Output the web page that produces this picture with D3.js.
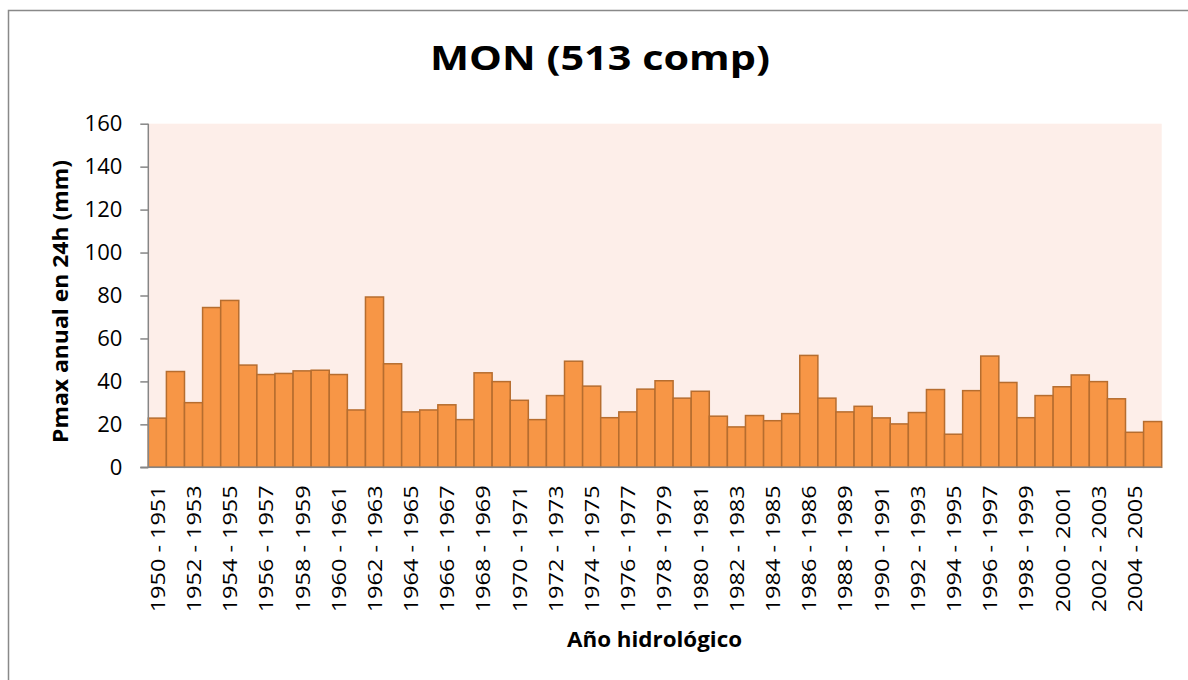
<!DOCTYPE html>
<html>
<head>
<meta charset="utf-8">
<script src="https://cdn.jsdelivr.net/npm/d3@7"></script>
<style>
body { margin: 0; background: #fff; }
svg { display: block; }
</style>
</head>
<body>
<svg id="chart"></svg>
<script>
// años hidrológicos (la etiqueta 36 viene así en el original)
let years = [
"1950 - 1951","1951 - 1952","1952 - 1953","1953 - 1954","1954 - 1955","1955 - 1956","1956 - 1957","1957 - 1958",
"1958 - 1959","1959 - 1960","1960 - 1961","1961 - 1962","1962 - 1963","1963 - 1964","1964 - 1965","1965 - 1966",
"1966 - 1967","1967 - 1968","1968 - 1969","1969 - 1970","1970 - 1971","1971 - 1972","1972 - 1973","1973 - 1974",
"1974 - 1975","1975 - 1976","1976 - 1977","1977 - 1978","1978 - 1979","1979 - 1980","1980 - 1981","1981 - 1982",
"1982 - 1983","1983 - 1984","1984 - 1985","1985 - 1986","1986 - 1986","1987 - 1988","1988 - 1989","1989 - 1990",
"1990 - 1991","1991 - 1992","1992 - 1993","1993 - 1994","1994 - 1995","1995 - 1996","1996 - 1997","1997 - 1998",
"1998 - 1999","1999 - 2000","2000 - 2001","2001 - 2002","2002 - 2003","2003 - 2004","2004 - 2005","2005 - 2006"
];
// Pmax anual en 24h (mm)
let pmax = [
22.9, 44.6, 30.1, 74.4, 77.7, 47.6, 43.2, 43.7, 44.9, 45.2,
43.2, 26.7, 79.3, 48.2, 25.8, 26.7, 29.1, 22.2, 44.0, 39.9,
31.2, 22.2, 33.4, 49.4, 37.8, 23.1, 25.8, 36.4, 40.3, 32.2,
35.4, 23.8, 18.8, 24.1, 21.7, 25.0, 52.1, 32.2, 25.8, 28.4,
23.0, 20.2, 25.5, 36.2, 15.4, 35.7, 51.8, 39.5, 23.1, 33.4,
37.5, 43.0, 39.9, 31.9, 16.3, 21.3
];
let yTicks = [0, 20, 40, 60, 80, 100, 120, 140, 160];

let width = 1188;
let height = 680;
let plotL = 148.3, plotR = 1161.7, plotT = 123.7, plotB = 467.3;
let font = "'Open Sans', 'Noto Sans', sans-serif";

let svg = d3.select("#chart")
            .attr("width", width)
            .attr("height", height);

// marco exterior
svg.append("rect")
   .attr("x", 8.5).attr("y", 10.5)
   .attr("width", 1200).attr("height", 700)
   .style("fill", "none")
   .style("stroke", "#898989")
   .style("stroke-width", 1.5);

let scaleX = d3.scaleBand()
               .domain(years)
               .range([plotL, plotR])
               .padding(0);
let scaleY = d3.scaleLinear()
               .domain([0, 160])
               .range([plotB, plotT]);

// fondo del área de trazado
svg.append("rect")
   .attr("x", plotL).attr("y", plotT)
   .attr("width", plotR - plotL).attr("height", plotB - plotT)
   .style("fill", "#fdeee9");

// barras
svg.append("g")
   .selectAll("rect")
   .data(pmax)
   .enter()
   .append("rect")
   .attr("x", (d, i) => scaleX(years[i]))
   .attr("width", scaleX.bandwidth())
   .attr("y", d => scaleY(d))
   .attr("height", d => plotB - scaleY(d))
   .style("fill", "#f79646")
   .style("stroke", "#b66d2f")
   .style("stroke-width", 1.5);

// eje Y
let axisY = d3.axisLeft(scaleY).tickValues(yTicks).tickSize(8).tickPadding(18);
let gy = svg.append("g")
   .attr("transform", `translate(${plotL}, 0)`)
   .call(axisY);
gy.select(".domain").attr("d", `M0,${plotT}V${plotB}`);
gy.selectAll("line, path").style("stroke", "#868686").style("stroke-width", 1.5);
gy.selectAll("text")
  .attr("x", -26)
  .style("font-family", font)
  .style("font-size", "22px")
  .style("fill", "#000");

// eje X
let axisX = d3.axisBottom(scaleX).tickSize(0).tickPadding(0)
              .tickFormat((d, i) => i % 2 == 0 ? d : "");
let gx = svg.append("g")
   .attr("transform", `translate(0, ${plotB})`)
   .call(axisX);
gx.select(".domain").attr("d", `M${plotL - 8},0H${plotR}`);
gx.selectAll("path").style("stroke", "#868686").style("stroke-width", 1.5);
gx.selectAll("text")
  .attr("transform", "rotate(-90)")
  .attr("x", -18)
  .attr("y", 0)
  .attr("dy", "0.36em")
  .style("text-anchor", "end")
  .style("font-family", font)
  .style("font-size", "20.5px")
  .style("fill", "#000")
  .filter(d => years.indexOf(d) % 2 == 0)
  .attr("textLength", 127)
  .attr("lengthAdjust", "spacingAndGlyphs");

// títulos
svg.append("text")
   .attr("x", 600).attr("y", 70)
   .attr("text-anchor", "middle")
   .attr("textLength", 340)
   .attr("lengthAdjust", "spacingAndGlyphs")
   .style("font-family", font)
   .style("font-weight", "bold")
   .style("font-size", "34px")
   .text("MON (513 comp)");

svg.append("text")
   .attr("x", 654.5).attr("y", 646.5)
   .attr("text-anchor", "middle")
   .attr("textLength", 175)
   .attr("lengthAdjust", "spacingAndGlyphs")
   .style("font-family", font)
   .style("font-weight", "bold")
   .style("font-size", "21px")
   .text("Año hidrológico");

svg.append("text")
   .attr("transform", "translate(67.5, 301.5) rotate(-90)")
   .attr("text-anchor", "middle")
   .attr("textLength", 283)
   .attr("lengthAdjust", "spacingAndGlyphs")
   .style("font-family", font)
   .style("font-weight", "bold")
   .style("font-size", "20.5px")
   .text("Pmax anual en 24h (mm)");
</script>
</body>
</html>
